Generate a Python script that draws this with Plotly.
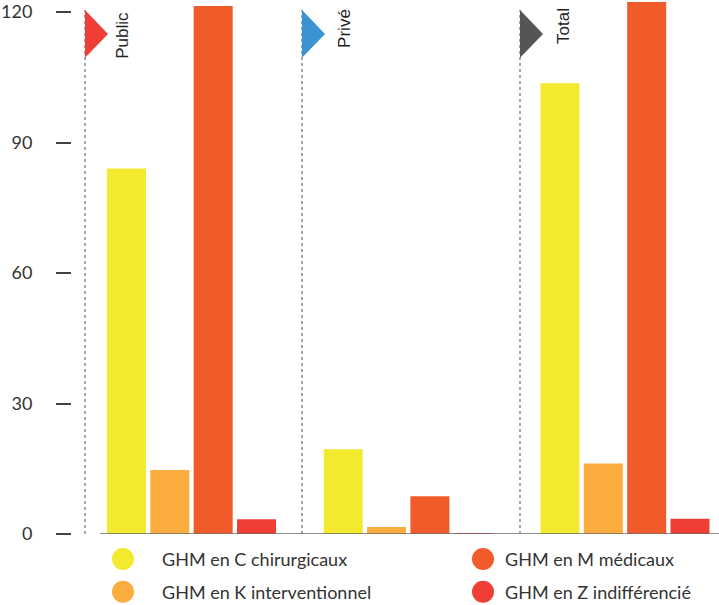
import plotly.graph_objects as go

# Groups and series
groups = ["Public", "Privé", "Total"]
series_names = [
    "GHM en C chirurgicaux",
    "GHM en K interventionnel",
    "GHM en M médicaux",
    "GHM en Z indifférencié",
]
chirurgicaux = [84.0, 19.5, 103.6]
interventionnel = [14.7, 1.6, 16.2]
medicaux = [121.4, 8.7, 130.1]
indifferencie = [3.4, 0.15, 3.5]
y_ticks = [0, 30, 60, 90, 120]

series_values = [chirurgicaux, interventionnel, medicaux, indifferencie]
series_colors = ["#F3EA2F", "#FBAE3F", "#F15A29", "#EF3E36"]
flag_colors = ["#EF3E36", "#3B94D1", "#555555"]

W, H = 719, 605
ML, MR, MT, MB = 72, 0, 0, 71
PLOT_W = W - ML - MR
PLOT_H = H - MT - MB
Y_MAX = 122.3
X_RANGE = [-0.5513, 2.4337]
TEXT_FONT = "Lato"


def px_x(px):
    """Horizontal page pixel -> paper coordinate."""
    return (px - ML) / PLOT_W


def px_y(py):
    """Vertical page pixel -> paper coordinate."""
    return 1 - (py - MT) / PLOT_H


def x_data(px):
    """Horizontal page pixel -> x data coordinate."""
    return X_RANGE[0] + (px - ML) / PLOT_W * (X_RANGE[1] - X_RANGE[0])


def y_data(py):
    return (MT + PLOT_H - py) / PLOT_H * Y_MAX


fig = go.Figure()
for name, vals, color in zip(series_names, series_values, series_colors):
    fig.add_trace(go.Bar(
        x=groups, y=vals, name=name, marker_color=color,
        marker_line_width=0, showlegend=False, hoverinfo="x+y+name",
    ))

shapes = []
annotations = []

# Baseline
shapes.append(dict(type="line", xref="x", yref="y",
                   x0=x_data(100), x1=X_RANGE[1] + 0.1, y0=0, y1=0,
                   line=dict(color="#6b6b6b", width=1.5), layer="above"))

# Group separators, flags and labels
sep_px = [85, 302, 520]
label_px = [123, 345, 564]
label_py = [34, 27, 24]
for g, sx, lx, ly, fc in zip(groups, sep_px, label_px, label_py, flag_colors):
    xs = x_data(sx)
    shapes.append(dict(type="line", xref="x", yref="y", x0=xs, x1=xs,
                       y0=0, y1=y_data(8),
                       line=dict(color="#6e6e6e", width=1.2, dash="dot"),
                       layer="below"))
    x_tip = x_data(sx + 23)
    y_top, y_mid, y_bot = y_data(8), y_data(32), y_data(56)
    shapes.append(dict(type="path", xref="x", yref="y",
                       path=f"M {xs},{y_top} L {x_tip},{y_mid} L {xs},{y_bot} Z",
                       fillcolor=fc, line=dict(width=0), layer="above"))
    annotations.append(dict(x=px_x(lx), y=px_y(ly), xref="paper", yref="paper",
                            text=g, showarrow=False, textangle=-90,
                            xanchor="center", yanchor="middle",
                            font=dict(family="Liberation Sans", size=17, color="#222222")))

# Legend: two columns of coloured dots with labels
legend_items = [
    (0, 123, 160, 559), (1, 123, 160, 592),
    (2, 483, 503, 559), (3, 483, 503, 592),
]
for idx, cx, tx, cy in legend_items:
    shapes.append(dict(type="circle", xref="paper", yref="paper",
                       xsizemode="pixel", ysizemode="pixel",
                       xanchor=px_x(cx), yanchor=px_y(cy),
                       x0=-11, x1=11, y0=-11, y1=11,
                       fillcolor=series_colors[idx], line=dict(width=0)))
    annotations.append(dict(x=px_x(tx), y=px_y(cy), xref="paper", yref="paper",
                            text=series_names[idx], showarrow=False,
                            xanchor="left", yanchor="middle",
                            font=dict(family=TEXT_FONT, size=18, color="#333333")))

fig.update_layout(
    width=W, height=H,
    margin=dict(l=ML, r=MR, t=MT, b=MB),
    paper_bgcolor="white", plot_bgcolor="white",
    barmode="group", bargap=0.2, bargroupgap=0.1,
    shapes=shapes, annotations=annotations,
    xaxis=dict(range=X_RANGE, showticklabels=False, showgrid=False,
               zeroline=False, showline=False, ticks=""),
    yaxis=dict(range=[0, Y_MAX], tickvals=y_ticks, showgrid=False,
               zeroline=False, showline=False, ticks="outside", ticklen=15,
               tickwidth=1.5, tickcolor="#444444", ticklabelstandoff=20,
               ticklabeloverflow="allow",
               tickfont=dict(family=TEXT_FONT, size=18, color="#333333")),
)

fig.write_html("out.html")
